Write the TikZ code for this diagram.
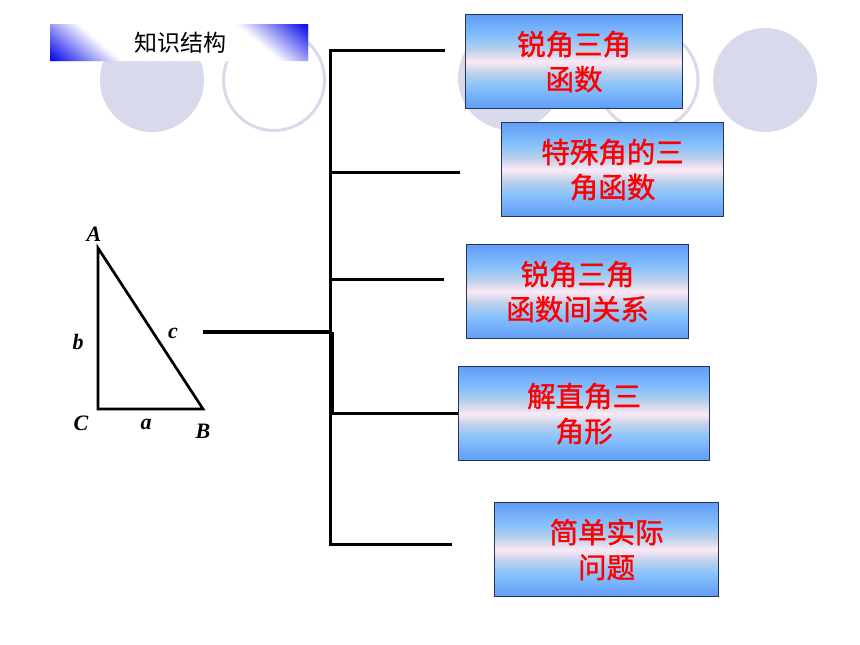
\documentclass[tikz,border=0pt]{standalone}
\usepackage{fontspec}
\setmainfont{Liberation Serif}
\newfontfamily\cjk{Noto Sans CJK SC}
\newfontfamily\cjkheavy[FakeBold=1.2]{Noto Sans CJK SC}
\definecolor{circ}{RGB}{217,217,236}
\definecolor{bnblue}{RGB}{10,10,235}
\definecolor{bxA}{RGB}{95,156,247}
\definecolor{bxB}{RGB}{138,195,251}
\definecolor{bxC}{RGB}{190,208,234}
\definecolor{bxD}{RGB}{253,233,245}
\definecolor{bxborder}{RGB}{38,52,88}
\pgfdeclareverticalshading{boxshade}{100bp}{color(0bp)=(bxA); color(25bp)=(bxA); color(37.5bp)=(bxB); color(44bp)=(bxC); color(50bp)=(bxD); color(56bp)=(bxC); color(62.5bp)=(bxB); color(75bp)=(bxA); color(100bp)=(bxA)}
\begin{document}
\begin{tikzpicture}[x=1pt,y=-1pt,line join=miter]
\tikzset{
  ring/.style={draw=circ,line width=3pt},
  disc/.style={fill=circ},
  topicbox/.style={draw=bxborder,line width=1.2pt,shading=boxshade,anchor=north west,inner sep=0pt,text=red,align=center,font=\cjkheavy\fontsize{28.5pt}{35pt}\selectfont},
  bar/.style={line width=3pt,black},
  hubbar/.style={line width=4.5pt,black},
  tri/.style={line width=2.7pt,black},
  lbl/.style={font=\bfseries\itshape\fontsize{22pt}{22pt}\selectfont,inner sep=0pt}
}
\fill[white] (0,0) rectangle (860,645);
\useasboundingbox (0,0) rectangle (860,645);
% background circles
\fill[disc] (152,80) circle (52);
\draw[ring] (274,80) circle (50.5);
\fill[disc] (510,78) circle (52);
\draw[ring] (648,80) circle (50);
\fill[disc] (765,80) circle (52);
% banner
\begin{scope}
  \clip (50,24) rectangle (308,61);
  \foreach \u in {-130,-129,...,129}{
    \pgfmathtruncatemacro\p{max(0,min(100,(abs(\u+0.5)-50)/45*100))}
    \fill[bnblue!\p!white] ({179+(\u-13.8)/0.643},24) -- ({179+(\u+1.5-13.8)/0.643},24) -- ({179+(\u+1.5+14.55)/0.643},61) -- ({179+(\u+14.55)/0.643},61) -- cycle;
  }
\end{scope}
\node[font=\cjk\fontsize{23pt}{23pt}\selectfont] (title) at (180,43) {知识结构};
% topic boxes
\node[topicbox,minimum width=217pt,minimum height=94pt] (t1) at (465,14) {锐角三角\\函数};
\node[topicbox,minimum width=222pt,minimum height=94pt] (t2) at (501,122) {特殊角的三\\角函数};
\node[topicbox,minimum width=222pt,minimum height=94pt] (t3) at (466,244) {锐角三角\\函数间关系};
\node[topicbox,minimum width=251pt,minimum height=94pt] (t4) at (458,366) {解直角三\\角形};
\node[topicbox,minimum width=224pt,minimum height=94pt] (t5) at (494,502) {简单实际\\问题};
% bracket
\coordinate (hub) at (203,332);
\coordinate (j) at (332,332);
\coordinate (v1) at (330,50);
\coordinate (v5) at (330,544);
\coordinate (e1) at (445,50);
\coordinate (e2) at (460,172);
\coordinate (e3) at (444,279);
\coordinate (e5) at (452,544);
\draw[bar] (e1) -- (v1) -- (v5) -- (e5);
\draw[bar] (e2 -| v1) -- (e2);
\draw[bar] (e3 -| v1) -- (e3);
\draw[bar] (j) |- (t4.west);
\draw[hubbar] (hub) -- (j);
% triangle
\coordinate (A) at (98,248);
\coordinate (C) at (98,409);
\coordinate (B) at (203,409);
\draw[tri] (A) -- (B) -- (C) -- cycle;
\node[lbl] (lA) at (94,234) {A};
\node[lbl] (lb) at (78,342) {b};
\node[lbl] (lc) at (173,333) {c};
\node[lbl] (lC) at (81,423) {C};
\node[lbl] (la) at (146,424) {a};
\node[lbl] (lB) at (203,431) {B};
\end{tikzpicture}
\end{document}
